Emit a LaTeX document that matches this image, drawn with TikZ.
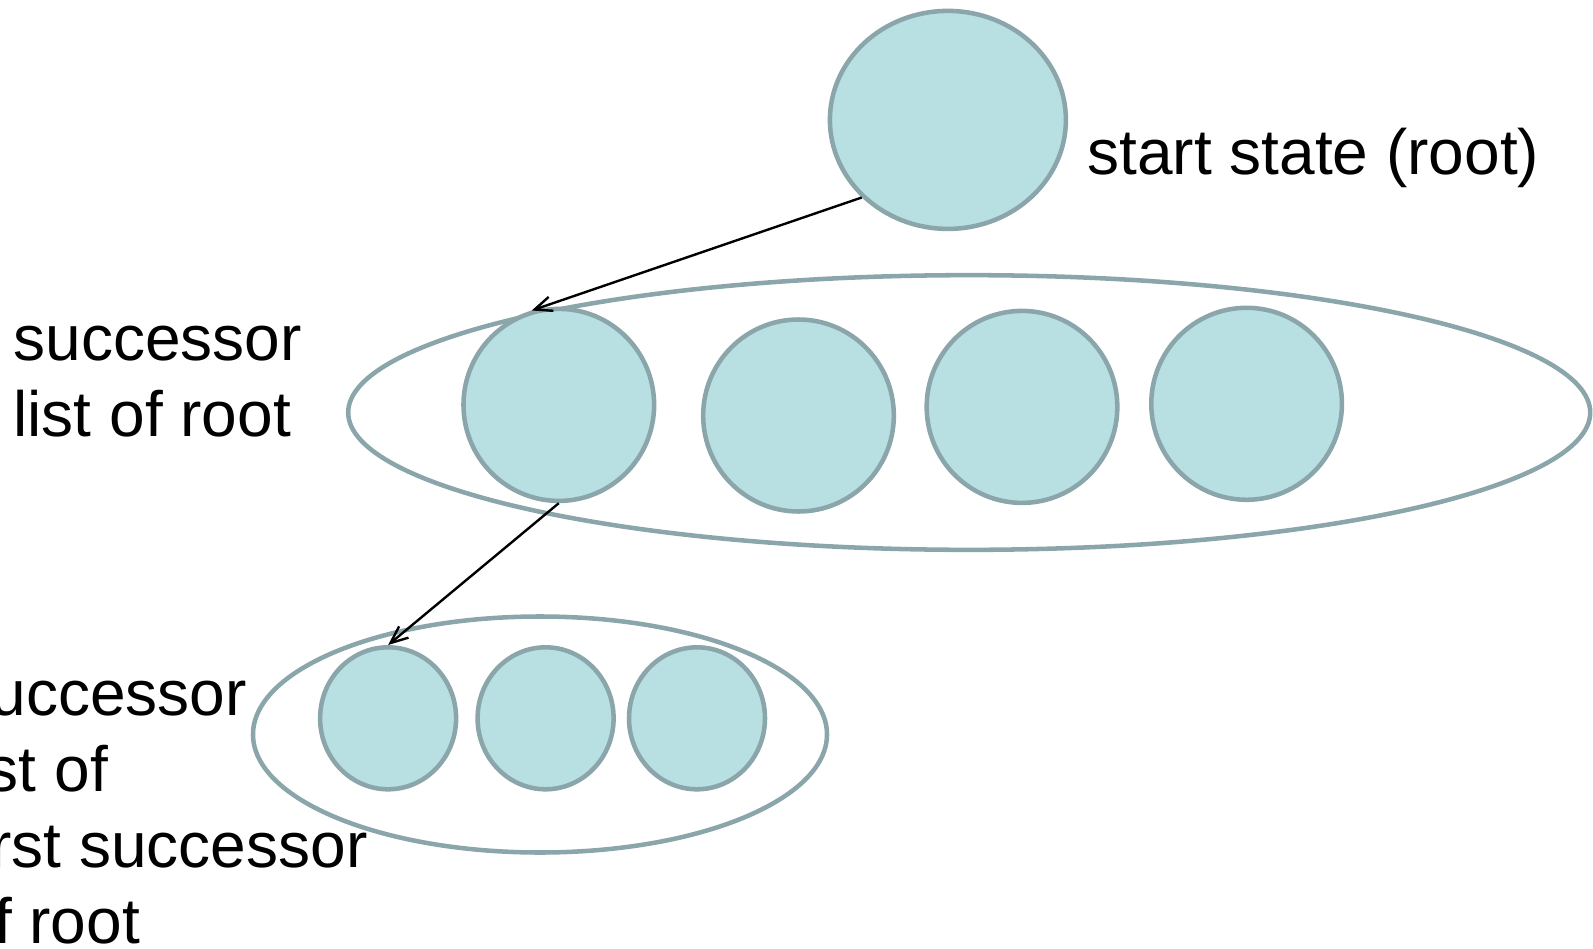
\documentclass[tikz,border=0pt]{standalone}
\usepackage{fontspec}
\setmainfont{Liberation Sans}
\usetikzlibrary{shapes.geometric,arrows.meta}
\definecolor{nodefill}{RGB}{184,223,226}
\definecolor{nodeline}{RGB}{139,166,170}
\tikzset{every picture/.style={line width=0.75pt}}

\begin{document}
\begin{tikzpicture}[x=0.75pt,y=0.75pt,yscale=-1,xscale=1,
  statenode/.style={ellipse,draw=nodeline,fill=nodefill,line width=3.4pt,inner sep=0pt},
  listnode/.style={ellipse,draw=nodeline,line width=3.4pt,inner sep=0pt},
  link/.style={line width=1.8pt,-{Straight Barb[length=13pt,width=11pt]}},
  lbl/.style={anchor=base west,inner sep=0pt,align=left,font=\fontsize{48pt}{57pt}\selectfont}]
\useasboundingbox (0,0) rectangle (1593,949);

%Shape: Ellipse [successor list of root]
\draw (969.2,412.5) node [listnode,minimum width=931.5pt,minimum height=206pt] (rootlist) {};
%Shape: Ellipse [successor list of first successor]
\draw (540,734.5) node [listnode,minimum width=430.5pt,minimum height=177pt] (sublist) {};

%Shape: Circle [root]
\draw (947.9,119.9) node [statenode,minimum width=177pt,minimum height=163.5pt] (root) {};
%Shape: Circle [successors of root]
\draw (558.8,404.9) node [statenode,minimum width=143pt,minimum height=144pt] (succa) {};
\draw (798.5,415.5) node [statenode,minimum width=143pt,minimum height=144pt] (succb) {};
\draw (1022,406.9) node [statenode,minimum width=143pt,minimum height=144pt] (succc) {};
\draw (1246.6,403.8) node [statenode,minimum width=143pt,minimum height=144pt] (succd) {};
%Shape: Circle [successors of first successor]
\draw (388.1,718.3) node [statenode,minimum width=102pt,minimum height=106.5pt] (subsucca) {};
\draw (545.6,718.3) node [statenode,minimum width=102pt,minimum height=106.5pt] (subsuccb) {};
\draw (697,718.3) node [statenode,minimum width=102pt,minimum height=106.5pt] (subsuccc) {};

%Straight Lines
\draw [link] (root.222.7) -- (succa.106.4);
%Straight Lines
\draw [link] (succa.south) -- (subsucca.north);

% Text Node
\draw (1087,174) node [lbl] (rootlbl) {start state (root)};
% Text Node
\draw (13,436) node [lbl] (rootlistlbl) {successor\\list of root};
% Text Node
\draw (-42,943) node [lbl] (sublistlbl) {successor\\list of\\first successor\\of root};

\end{tikzpicture}
\end{document}
